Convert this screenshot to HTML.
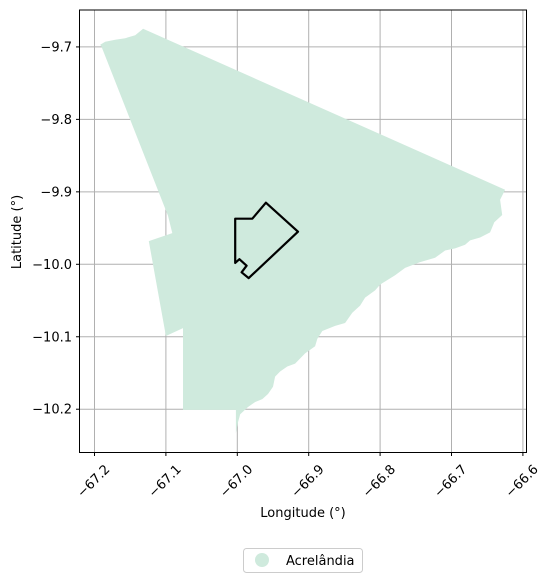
<!DOCTYPE html>
<html><head><meta charset="utf-8"><style>
html,body{margin:0;padding:0;background:#fff}
svg{display:block;font-family:"DejaVu Sans","Liberation Sans",sans-serif}
</style></head><body>
<svg id="chart" width="551" height="582">
<g id="grid"></g>
<g id="shapes"></g>
<rect x="79.5" y="10" width="447" height="442.5" fill="none" stroke="#000" stroke-width="1"/>
<g id="ticks"></g>
<text x="303" y="517" font-size="13" text-anchor="middle">Longitude (°)</text>
<text transform="translate(21,232) rotate(-90)" font-size="13" text-anchor="middle">Latitude (°)</text>
<g>
<rect x="243.5" y="548.5" width="119" height="24" rx="3" fill="#fff" stroke="#ccc"/>
<circle cx="262" cy="560" r="7" fill="#cfeadd"/>
<text x="286" y="565" font-size="13">Acrelândia</text>
</g>
</svg>
<script>
const xTicks=[-67.2,-67.1,-67.0,-66.9,-66.8,-66.7,-66.6];
const xTickLabels=["−67.2","−67.1","−67.0","−66.9","−66.8","−66.7","−66.6"];
const yTicks=[-9.7,-9.8,-9.9,-10.0,-10.1,-10.2];
const yTickLabels=["−9.7","−9.8","−9.9","−10.0","−10.1","−10.2"];
const regionLon=[-67.192,-67.185,-67.171,-67.157,-67.143,-67.132,-66.625,-66.632,-66.629,-66.640,-66.646,-66.660,-66.674,-66.681,-66.695,-66.709,-66.723,-66.744,-66.765,-66.779,-66.800,-66.807,-66.821,-66.828,-66.839,-66.849,-66.863,-66.881,-66.888,-66.891,-66.905,-66.912,-66.919,-66.930,-66.940,-66.947,-66.950,-66.957,-66.965,-66.975,-66.985,-66.996,-66.999,-67.002,-67.002,-67.076,-67.076,-67.100,-67.124,-67.091,-67.097,-67.190];
const regionLat=[-9.697,-9.693,-9.690,-9.688,-9.684,-9.675,-9.897,-9.911,-9.932,-9.942,-9.956,-9.963,-9.967,-9.973,-9.978,-9.981,-9.991,-9.997,-10.005,-10.015,-10.028,-10.036,-10.046,-10.057,-10.067,-10.081,-10.085,-10.092,-10.103,-10.113,-10.123,-10.130,-10.137,-10.141,-10.148,-10.155,-10.169,-10.179,-10.186,-10.190,-10.197,-10.207,-10.218,-10.233,-10.201,-10.201,-10.088,-10.099,-9.968,-9.957,-9.933,-9.700];
const outlineLon=[-67.003,-66.979,-66.960,-66.915,-66.984,-66.994,-66.987,-66.997,-67.003];
const outlineLat=[-9.937,-9.937,-9.915,-9.955,-10.019,-10.011,-10.002,-9.993,-9.998];
const NS='http://www.w3.org/2000/svg';
function xs(lon){return 237.3+(lon+67.0)*714;}
function ys(lat){return 264.3-(lat+10.0)*724.6;}
function mk(tag,attrs,parent){const e=document.createElementNS(NS,tag);for(const k in attrs)e.setAttribute(k,attrs[k]);parent.appendChild(e);return e;}
const grid=document.getElementById('grid'),ticks=document.getElementById('ticks'),shapes=document.getElementById('shapes');
xTicks.forEach((v,i)=>{const x=xs(v);
 const g=mk('line',{x1:x,x2:x,y1:10,y2:452.5,stroke:'#b0b0b0','stroke-width':1},grid);
 
 
 const t=mk('line',{x1:x,x2:x,y1:452.5,y2:456,stroke:'#000','stroke-width':1},ticks);
 
 
 const l=mk('text',{transform:`translate(${x+16},${470}) rotate(-45)`,'font-size':13,'text-anchor':'end'},ticks);
 l.textContent=xTickLabels[i];
 
 
});
yTicks.forEach((v,i)=>{const y=ys(v);
 const g=mk('line',{x1:79.5,x2:526.5,y1:y,y2:y,stroke:'#b0b0b0','stroke-width':1},grid);
 
 
 const t=mk('line',{x1:76,x2:79.5,y1:y,y2:y,stroke:'#000','stroke-width':1},ticks);
 
 
 const l=mk('text',{x:72,y:y+4.5,'font-size':13,'text-anchor':'end'},ticks);
 l.textContent=yTickLabels[i];
 
 
});
const rp=regionLon.map((v,i)=>xs(v).toFixed(1)+','+ys(regionLat[i]).toFixed(1)).join(' ');
const reg=mk('polygon',{points:rp,fill:'#cfeadd'},shapes);


const op=outlineLon.map((v,i)=>xs(v).toFixed(1)+','+ys(outlineLat[i]).toFixed(1)).join(' ');
const ol=mk('polygon',{points:op,fill:'none',stroke:'#000','stroke-width':2.2,'stroke-linejoin':'round'},shapes);


</script>
</body></html>
